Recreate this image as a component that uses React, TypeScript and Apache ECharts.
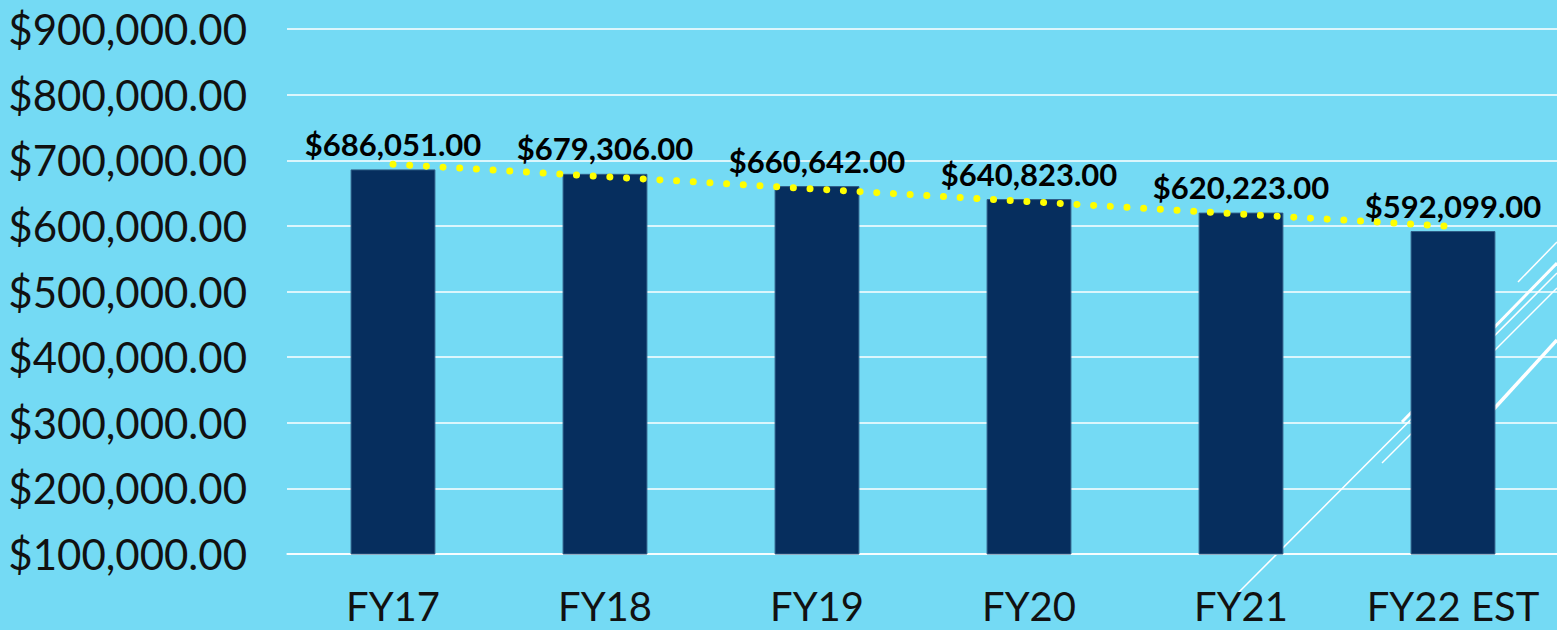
import React, { useEffect, useRef } from "react";
import * as echarts from "echarts";

const categories = ["FY17", "FY18", "FY19", "FY20", "FY21", "FY22 EST"];
const values = [686051, 679306, 660642, 640823, 620223, 592099];
const trendStart = 694000;
const trendEnd = 599000;
const yTicks = { min: 100000, max: 900000, interval: 100000 };

const fmtMoney = (v: number) =>
  "$" + v.toLocaleString("en-US", { minimumFractionDigits: 2, maximumFractionDigits: 2 });

const FONT = "Lato, 'Noto Sans', sans-serif";

export default function App() {
  const ref = useRef<HTMLDivElement>(null);
  useEffect(() => {
    if (!ref.current) return;
    const chart = echarts.init(ref.current, undefined, { renderer: "svg" });
    const trendData = categories.map((_, i) =>
      i === 0 ? trendStart : i === categories.length - 1 ? trendEnd : null
    );
    const deco = (x1: number, y1: number, x2: number, y2: number, w: number) => ({
      type: "line",
      z: 0,
      shape: { x1, y1, x2, y2 },
      style: { stroke: "#ffffff", lineWidth: w },
      silent: true,
    });
    chart.setOption({
      animation: false,
      backgroundColor: "#74DAF4",
      graphic: [
        deco(1238, 593, 1557, 273, 1.5),
        deco(1402, 422, 1557, 263, 3),
        deco(1382, 463, 1557, 288, 1.5),
        deco(1470, 435, 1557, 340, 3.5),
        deco(1518, 282, 1557, 242, 1.5),
      ],
      grid: {
        left: 287,
        top: 29,
        width: 1272,
        height: 525,
        containLabel: false,
        outerBoundsMode: "none",
      },
      xAxis: {
        type: "category",
        data: categories,
        axisTick: { show: false },
        axisLine: { show: true, lineStyle: { color: "#ffffff", width: 1.5 } },
        axisLabel: {
          interval: 0,
          color: "#111111",
          fontFamily: FONT,
          fontSize: 40,
          margin: 32,
        },
      },
      yAxis: {
        type: "value",
        min: yTicks.min,
        max: yTicks.max,
        interval: yTicks.interval,
        axisLine: { show: false },
        axisTick: { show: false },
        splitLine: { lineStyle: { color: "#ffffff", width: 1.5 } },
        axisLabel: {
          color: "#111111",
          fontFamily: FONT,
          fontSize: 42,
          margin: 40,
          formatter: (v: number) => fmtMoney(v),
        },
      },
      series: [
        {
          type: "bar",
          data: values,
          barWidth: "40%",
          itemStyle: { color: "#062E5E", borderColor: "#2E5C86", borderWidth: 1 },
          label: {
            show: true,
            position: "top",
            distance: 10,
            color: "#000000",
            fontFamily: FONT,
            fontWeight: "bold",
            fontSize: 31,
            formatter: (p: any) => fmtMoney(p.value),
          },
          z: 2,
        },
        {
          type: "line",
          data: trendData,
          connectNulls: true,
          symbol: "none",
          lineStyle: { color: "#FFFF00", width: 7, type: [0.01, 16.7], cap: "round" },
          z: 3,
        },
      ],
    });
    return () => chart.dispose();
  }, []);
  return (
    <div
      ref={ref}
      style={{ position: "fixed", left: 0, top: 0, width: 1557, height: 630 }}
    />
  );
}
